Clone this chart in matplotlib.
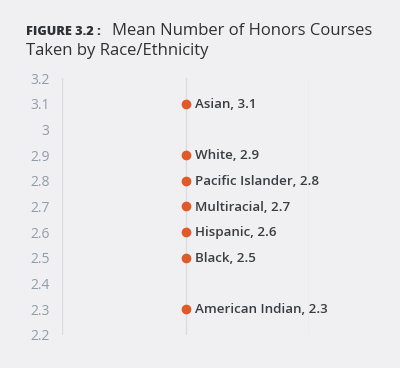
import matplotlib.pyplot as plt

groups = ['Asian', 'White', 'Pacific Islander', 'Multiracial', 'Hispanic', 'Black', 'American Indian']
means = [3.1, 2.9, 2.8, 2.7, 2.6, 2.5, 2.3]
yticks = [2.2, 2.3, 2.4, 2.5, 2.6, 2.7, 2.8, 2.9, 3.0, 3.1, 3.2]
ytick_labels = ['2.2', '2.3', '2.4', '2.5', '2.6', '2.7', '2.8', '2.9', '3', '3.1', '3.2']

bg = '#f0f0f2'
dot = '#e0592a'

fig = plt.figure(figsize=(4, 3.68), dpi=100, facecolor=bg)
ax = fig.add_axes([0.155, 0.09, 0.6175, 0.698], facecolor=bg)

ax.plot([1] * len(means), means, 'o', color=dot, markersize=6, zorder=3, clip_on=False)
for g, v in zip(groups, means):
    ax.annotate(f'{g}, {v}', (1, v), xytext=(6.5, -0.5), textcoords='offset points',
                va='center', ha='left', fontsize=9.6, color='#3b3d42',
                family='Open Sans', fontweight='semibold')

ax.set_xlim(0, 2)
ax.set_ylim(2.2, 3.2)
ax.set_xticks([0, 1, 2])
ax.set_xticklabels([])
ax.set_yticks(yticks)
ax.set_yticklabels(ytick_labels, family='Open Sans', fontsize=10, color='#939cab')
ax.tick_params(axis='y', length=0, pad=9)
ax.tick_params(axis='x', length=0)
ax.grid(axis='x', color='#dcdcde', linewidth=1)
for s in ax.spines.values():
    s.set_visible(False)

fig.text(0.065, 0.905, 'FIGURE 3.2 :', family='Open Sans', fontweight='heavy',
         fontsize=9.2, color='#2f3035')
fig.text(0.28, 0.905, 'Mean Number of Honors Courses', family='Open Sans',
         fontsize=12, color='#2f3035', fontweight='medium')
fig.text(0.065, 0.85, 'Taken by Race/Ethnicity', family='Open Sans',
         fontsize=12, color='#2f3035', fontweight='medium')

plt.savefig('out.png', dpi=100, facecolor=bg)
